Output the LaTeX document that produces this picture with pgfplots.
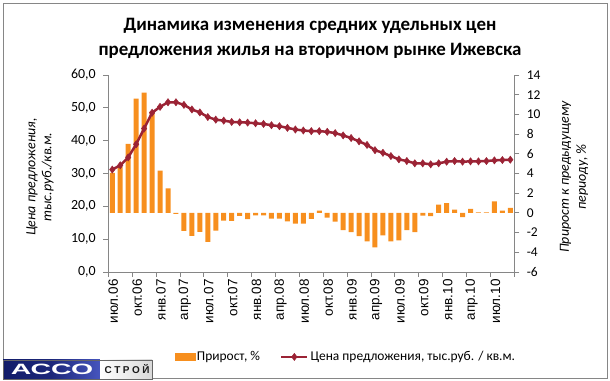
\documentclass[border=0pt]{standalone}
\usepackage{pgfplots}
\pgfplotsset{compat=1.18}
\usepackage{pgfplotstable}
\usepackage{fontspec}
\setmainfont{Carlito}
\newfontfamily\arialf{Liberation Sans}
\definecolor{barorange}{RGB}{247,143,30}
\definecolor{linered}{RGB}{155,35,53}
\definecolor{axgray}{RGB}{134,134,134}
\definecolor{logonavy}{RGB}{18,28,105}
\definecolor{logoblue}{RGB}{70,85,190}
\pgfplotsset{mylineleg/.style={legend image code/.code={\draw[mark repeat=2,mark phase=2,##1] plot coordinates {(0bp,0bp) (13bp,0bp) (26bp,0bp)};}}}

\pgfplotstableread{
x g
0 4.06
1 4.7
2 7.0
3 11.6
4 12.2
5 10.3
6 4.3
7 2.5
8 -0.1
9 -1.83
10 -2.33
11 -1.93
12 -2.94
13 -1.8
14 -0.78
15 -0.81
16 -0.3
17 -0.64
18 -0.25
19 -0.25
20 -0.58
21 -0.58
22 -0.85
23 -1.1
24 -1.1
25 -0.6
26 0.24
27 -0.47
28 -0.88
29 -1.76
30 -1.96
31 -2.37
32 -2.88
33 -3.49
34 -2.27
35 -2.88
36 -2.78
37 -1.76
38 -1.96
39 -0.27
40 -0.34
41 0.85
42 1.0
43 0.34
44 -0.44
45 0.4
46 0.05
47 0.05
48 1.18
49 0.24
50 0.5
}\growth

\pgfplotstableread{
x p
0 31.2
1 32.5
2 34.9
3 38.9
4 43.7
5 48.5
6 50.3
7 51.7
8 51.7
9 50.9
10 49.5
11 48.6
12 47.2
13 46.4
14 46.1
15 45.7
16 45.6
17 45.5
18 45.3
19 45.1
20 44.7
21 44.4
22 43.9
23 43.4
24 43.1
25 42.9
26 42.9
27 42.7
28 42.3
29 41.6
30 40.8
31 39.8
32 38.7
33 37.1
34 36.3
35 35.3
36 34.3
37 33.8
38 33.1
39 33.1
40 32.8
41 33.1
42 33.6
43 33.8
44 33.6
45 33.7
46 33.7
47 33.8
48 34.0
49 34.1
50 34.2
}\price

\begin{document}
\begin{tikzpicture}
\path[use as bounding box] (0bp,0bp) rectangle (610bp,381bp);
\draw[axgray, line width=0.8bp] (3bp,3bp) rectangle (607bp,378bp);

% title
\node[align=center, font=\bfseries\fontsize{19}{25}\selectfont] at (310bp,343bp)
  {Динамика изменения средних удельных цен\\предложения жилья на вторичном рынке Ижевска};

% axis labels
\node[rotate=90, align=center, font=\itshape\fontsize{14}{16}\selectfont] at (40bp,204bp)
  {Цена предложения,\\тыс.руб./кв.м.};
\node[rotate=90, align=center, font=\itshape\fontsize{14}{17}\selectfont] at (574bp,204bp)
  {Прирост к предыдущему\\периоду, \%};

% growth bars, right axis
\begin{axis}[
  at={(108.3bp,109bp)}, anchor=south west,
  scale only axis, width=406bp, height=197bp,
  xmin=-0.5, xmax=50.5, ymin=-6, ymax=14,
  axis y line*=right, axis x line*=bottom,
  x axis line style={draw=none},
  ytick={-6,-4,...,14},
  xtick={0,3,...,48},
  xticklabels={июл.06,окт.06,янв.07,апр.07,июл.07,окт.07,янв.08,апр.08,июл.08,окт.08,янв.09,апр.09,июл.09,окт.09,янв.10,апр.10,июл.10},
  xtick style={draw=none},
  tick align=outside, major tick length=5bp,
  y axis line style={draw=axgray, line width=0.8bp},
  ytick style={draw=axgray, line width=0.8bp},
  /pgf/number format/assume math mode=true,
  yticklabel style={font=\fontsize{13.5}{15}\selectfont, xshift=4bp},
  xticklabel style={rotate=90, anchor=east, font=\arialf\fontsize{13.5}{15}\selectfont, yshift=-1bp, xshift=1bp},
  ybar, bar width=5bp,
]
\addplot[fill=barorange, draw=none, bar shift=0bp] table[x=x,y=g]{\growth};
\end{axis}

% price line, left axis
\begin{axis}[
  at={(108.3bp,109bp)}, anchor=south west,
  scale only axis, width=406bp, height=197bp,
  xmin=-0.5, xmax=50.5, ymin=0, ymax=60,
  axis y line*=left, axis x line*=bottom,
  ytick={0,10,...,60},
  xtick={-0.5,2.5,...,50.5}, xticklabels={},
  tick align=outside, major tick length=5bp,
  axis line style={draw=axgray, line width=0.8bp},
  tick style={draw=axgray, line width=0.8bp},
  /pgf/number format/assume math mode=true,
  yticklabel style={font=\fontsize{14}{15}\selectfont, xshift=-4bp,
    /pgf/number format/.cd, fixed, fixed zerofill, precision=1, use comma},
  legend style={at={(0.585,-0.431)}, anchor=center, draw=none, fill=none,
    legend columns=2, font=\fontsize{13.5}{15}\selectfont,
    /tikz/every even column/.append style={column sep=18bp}},
]
\addlegendimage{legend image code/.code={\fill[barorange] (0bp,-3.5bp) rectangle (20bp,3.5bp);}}
\addlegendentry{Прирост, \%}
\addplot[color=linered, line width=2.5bp, mark=diamond*, mark size=3.6bp,
  mark options={fill=linered, draw=linered, line width=0.5bp}, mylineleg]
  table[x=x,y=p]{\price};
\addlegendentry{Цена предложения, тыс.руб. / кв.м.}
\end{axis}

% logo
\shade[left color=logonavy, right color=logoblue, middle color=logonavy!80!logoblue] (3bp,2bp) rectangle (100bp,21bp);
\shade[left color=white, right color=black!15] (100bp,2bp) rectangle (152bp,21bp);
\draw[black!60, line width=0.5bp] (3bp,2bp) rectangle (152bp,21bp);
\node[white, font=\arialf\bfseries\fontsize{15}{15}\selectfont, xscale=1.9] at (52bp,11.5bp) {АССО};
\node[black!90, font=\arialf\bfseries\fontsize{10}{10}\selectfont] at (127bp,11.5bp) {С\hspace{2.5bp}Т\hspace{2.5bp}Р\hspace{2.5bp}О\hspace{2.5bp}Й};
\end{tikzpicture}
\end{document}
